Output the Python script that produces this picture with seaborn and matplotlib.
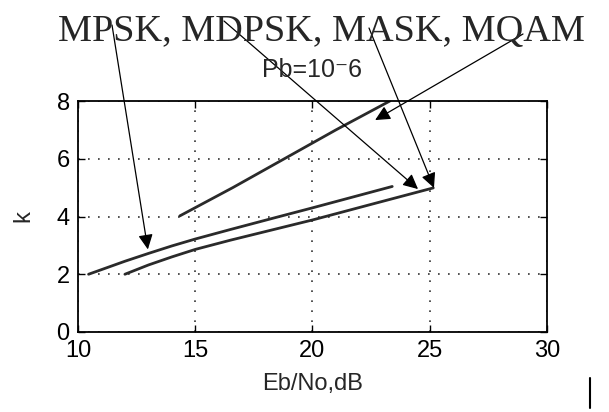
import matplotlib
matplotlib.use("Agg")
import matplotlib.pyplot as plt
import pandas as pd
import seaborn as sns
from matplotlib.lines import Line2D

# ---- data ----
mpsk_ebno = [10.45, 12.0, 13.0, 14.0, 15.0, 16.5, 18.5, 20.0, 23.4]
mpsk_k = [2.0, 2.45, 2.72, 2.98, 3.22, 3.55, 3.98, 4.3, 5.04]

mask_ebno = [12.0, 13.0, 14.0, 15.0, 16.5, 18.0, 20.0, 22.5, 25.15]
mask_k = [2.0, 2.32, 2.6, 2.86, 3.18, 3.48, 3.88, 4.42, 4.99]

mqam_ebno = [14.34, 16.6, 18.8, 21.0, 23.3]
mqam_k = [4.02, 5.0, 6.0, 7.0, 8.0]

title_text = "MPSK, MDPSK, MASK, MQAM"
subtitle_text = "Pb=10\u207b6"
x_label = "Eb/No,dB"
y_label = "k"
x_ticks = [10, 15, 20, 25, 30]
y_ticks = [0, 2, 4, 6, 8]

# arrow labels: tail (pixel position in the heading text) -> head (data point)
arrow_names = ["MPSK", "MDPSK", "MASK", "MQAM"]
arrow_tail_px = [(112, 25), (224, 21), (369, 28), (523, 34)]
arrow_head_x = [12.98, 24.5, 25.18, 22.67]
arrow_head_y = [2.86, 4.95, 4.99, 7.34]

# ---- figure ----
sns.set_style("ticks")
plt.rcParams["font.family"] = ["Liberation Sans", "DejaVu Sans"]

W, H = 609, 412
fig = plt.figure(figsize=(W / 100, H / 100), dpi=100)
ax = fig.add_axes([78 / W, 1 - 332 / H, (547 - 78) / W, (332 - 101) / H])

frames = []
for name, xs, ys in [("MPSK", mpsk_ebno, mpsk_k),
                     ("MASK", mask_ebno, mask_k),
                     ("MQAM", mqam_ebno, mqam_k)]:
    frames.append(pd.DataFrame({"ebno": xs, "k": ys, "mod": name}))
df = pd.concat(frames, ignore_index=True)

for name, sub in df.groupby("mod", sort=False):
    sns.lineplot(data=sub, x="ebno", y="k", ax=ax, sort=False, estimator=None,
                 color="#2a2a2a", linewidth=2.0, legend=False)

ax.set_xlim(10, 30)
ax.set_ylim(0, 8)
ax.set_xticks(x_ticks)
ax.set_yticks(y_ticks)
ax.set_xticklabels([str(t) for t in x_ticks])
ax.set_yticklabels([str(t) for t in y_ticks])
ax.grid(True, color="#333333", linestyle=(0, (1, 5)), linewidth=1.2)
ax.tick_params(direction="in", top=True, right=True, length=5, width=1,
               labelsize=17, colors="black", pad=6)
for s in ax.spines.values():
    s.set_visible(True)
    s.set_linewidth(1.3)
    s.set_color("black")

ax.set_xlabel(x_label, fontsize=17, labelpad=8)
ax.set_ylabel(y_label, fontsize=17, labelpad=16)
ax.set_title(subtitle_text, fontsize=18, pad=17)

fig.text(321.5 / W, 1 - 41 / H, title_text, ha="center", va="baseline",
         fontsize=27.5, family=["Liberation Serif", "DejaVu Serif"])

for name, (tx, ty), hx, hy in zip(arrow_names, arrow_tail_px, arrow_head_x, arrow_head_y):
    ax.annotate("", xy=(hx, hy), xycoords="data",
                xytext=(tx / W, 1 - ty / H), textcoords="figure fraction",
                arrowprops=dict(arrowstyle="-|>,head_length=0.45,head_width=0.22",
                                mutation_scale=20, lw=0.9, color="black",
                                shrinkA=0, shrinkB=0),
                annotation_clip=False)

fig.add_artist(Line2D([590 / W, 590 / W], [1 - 378 / H, 1 - 408 / H],
                      transform=fig.transFigure, color="black", lw=1.5))

fig.savefig("out.png", dpi=100)
